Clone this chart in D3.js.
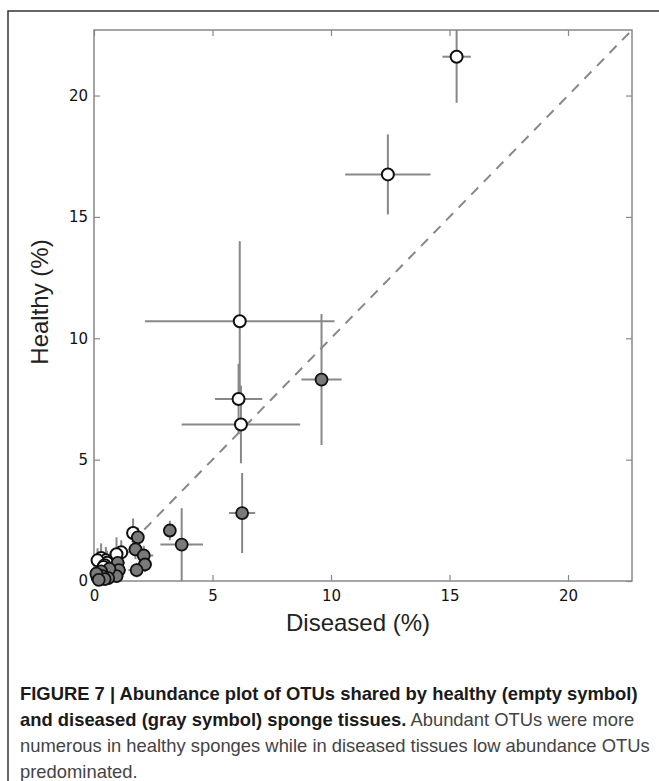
<!DOCTYPE html>
<html>
<head>
<meta charset="utf-8">
<script src="https://cdn.jsdelivr.net/npm/d3@7"></script>
<style>
  body { margin: 0; background: #fff; }
</style>
</head>
<body>
<svg id="chart"></svg>
<script>
// [diseased %, healthy %, x error, y error]
const openPoints = [
  [15.3, 21.6, 0.6, 1.9],
  [12.4, 16.75, 1.8, 1.65],
  [6.15, 10.7, 4.0, 3.3],
  [6.1, 7.5, 1.0, 1.45],
  [6.2, 6.45, 2.5, 1.6],
  [1.65, 1.98, 0.3, 0.6],
  [1.15, 1.18, 0.35, 0.5],
  [0.95, 1.1, 0.3, 0.7],
  [0.3, 0.95, 0.2, 0.6],
  [0.5, 0.85, 0.25, 0.55],
  [0.55, 0.75, 0.2, 0.5],
  [0.15, 0.85, 0.1, 0.5],
  [0.45, 0.65, 0.2, 0.4],
  [0.4, 0.58, 0.2, 0.4],
  [0.25, 0.35, 0.15, 0.3],
  [0.15, 0.15, 0.1, 0.2]
];

const grayPoints = [
  [9.6, 8.3, 0.85, 2.7],
  [6.25, 2.8, 0.55, 1.65],
  [3.7, 1.5, 0.9, 1.5],
  [3.2, 2.08, 0.15, 0.4],
  [1.85, 1.8, 0.2, 0.4],
  [1.75, 1.3, 0.3, 0.4],
  [2.1, 1.05, 0.4, 0.4],
  [2.15, 0.68, 0.3, 0.3],
  [1.8, 0.45, 0.35, 0.3],
  [1.0, 0.75, 0.3, 0.3],
  [1.05, 0.45, 0.3, 0.3],
  [0.95, 0.2, 0.3, 0.3],
  [0.65, 0.5, 0.2, 0.3],
  [0.6, 0.12, 0.2, 0.2],
  [0.3, 0.4, 0.15, 0.2],
  [0.35, 0.2, 0.2, 0.2],
  [0.45, 0.08, 0.15, 0.15],
  [0.1, 0.3, 0.1, 0.2],
  [0.2, 0.05, 0.1, 0.1]
];

const tickValues = [0, 5, 10, 15, 20];
const axisMax = 22.7;

const xLabel = 'Diseased (%)';
const yLabel = 'Healthy (%)';

const captionLines = [
  [{t: 'FIGURE 7 | Abundance plot of OTUs shared by healthy (empty symbol)', b: true}],
  [{t: 'and diseased (gray symbol) sponge tissues.', b: true}, {t: ' Abundant OTUs were more', b: false}],
  [{t: 'numerous in healthy sponges while in diseased tissues low abundance OTUs', b: false}],
  [{t: 'predominated.', b: false}]
];

const W = 659, H = 781;
const margin = {top: 30, left: 94};
const width = 538;
const height = 551;

const root = d3.select('#chart')
.attr('width', W)
.attr('height', H);

// outer figure frame (only left/top edges show)
root.append('rect')
.attr('x', 8).attr('y', 11)
.attr('width', W + 20).attr('height', H + 20)
.attr('fill', 'none')
.attr('stroke', '#333')
.attr('stroke-width', 1.5);

const svg = root.append('g')
.attr('transform', `translate(${margin.left}, ${margin.top})`);

const x = d3.scaleLinear().domain([0, axisMax]).range([0, width]);
const y = d3.scaleLinear().domain([0, axisMax]).range([height, 0]);

svg.append('clipPath').attr('id', 'clip')
.append('rect').attr('width', width).attr('height', height);

// axes with inward ticks on all four sides
const axisStyle = g => {
  g.select('.domain').remove();
  g.selectAll('.tick line').attr('stroke', '#888').attr('stroke-width', 1.2);
  g.selectAll('.tick text')
  .style('font-family', 'DejaVu Sans')
  .style('font-size', '15px')
  .style('fill', '#111');
};

svg.append('g')
.attr('transform', `translate(0, ${height})`)
.call(d3.axisBottom(x).tickValues(tickValues).tickSize(-6).tickPadding(9))
.call(axisStyle);

svg.append('g')
.call(d3.axisLeft(y).tickValues(tickValues).tickSize(-6).tickPadding(6))
.call(axisStyle);

svg.append('g')
.call(d3.axisTop(x).tickValues(tickValues).tickSize(-6).tickFormat(''))
.call(axisStyle);

svg.append('g')
.attr('transform', `translate(${width}, 0)`)
.call(d3.axisRight(y).tickValues(tickValues).tickSize(-6).tickFormat(''))
.call(axisStyle);

svg.append('rect')
.attr('width', width).attr('height', height)
.attr('fill', 'none')
.attr('stroke', '#888')
.attr('stroke-width', 1.5);

// 1:1 line
svg.append('line')
.attr('x1', x(0)).attr('y1', y(0))
.attr('x2', x(axisMax)).attr('y2', y(axisMax))
.attr('stroke', '#888')
.attr('stroke-width', 2)
.attr('stroke-dasharray', '10,8');

const plot = svg.append('g').attr('clip-path', 'url(#clip)');

const allPoints = openPoints.concat(grayPoints);

plot.selectAll('line.xerr')
.data(allPoints)
.enter()
.append('line')
.attr('class', 'xerr')
.attr('x1', d => x(d[0] - d[2])).attr('x2', d => x(d[0] + d[2]))
.attr('y1', d => y(d[1])).attr('y2', d => y(d[1]))
.attr('stroke', '#888').attr('stroke-width', 2);

plot.selectAll('line.yerr')
.data(allPoints)
.enter()
.append('line')
.attr('class', 'yerr')
.attr('x1', d => x(d[0])).attr('x2', d => x(d[0]))
.attr('y1', d => y(d[1] - d[3])).attr('y2', d => y(d[1] + d[3]))
.attr('stroke', '#888').attr('stroke-width', 2);

svg.selectAll('circle.open')
.data(openPoints)
.enter()
.append('circle')
.attr('class', 'open')
.attr('cx', d => x(d[0]))
.attr('cy', d => y(d[1]))
.attr('r', 6)
.attr('fill', '#fff')
.attr('stroke', '#111')
.attr('stroke-width', 2);

svg.selectAll('circle.gray')
.data(grayPoints)
.enter()
.append('circle')
.attr('class', 'gray')
.attr('cx', d => x(d[0]))
.attr('cy', d => y(d[1]))
.attr('r', 6)
.attr('fill', '#7a7a7a')
.attr('stroke', '#111')
.attr('stroke-width', 1.8);

// axis titles
svg.append('text')
.attr('x', width / 2 - 5)
.attr('y', height + 50)
.attr('text-anchor', 'middle')
.style('font-family', 'Liberation Sans, Arial, sans-serif')
.style('font-size', '24px')
.style('fill', '#222')
.text(xLabel);

svg.append('text')
.attr('transform', 'rotate(-90)')
.attr('x', -272)
.attr('y', -46)
.attr('text-anchor', 'middle')
.style('font-family', 'Liberation Sans, Arial, sans-serif')
.style('font-size', '24px')
.style('fill', '#222')
.text(yLabel);

// caption
const caption = root.append('text')
.style('font-family', 'Liberation Sans, Arial, sans-serif')
.style('font-size', '18.4px');

captionLines.forEach((line, i) => {
  line.forEach((part, j) => {
    caption.append('tspan')
    .attr('x', j === 0 ? 20 : null)
    .attr('y', j === 0 ? 700 + i * 26 : null)
    .style('font-weight', part.b ? 'bold' : 'normal')
    .style('fill', part.b ? '#1a1a1a' : '#444')
    .text(part.t);
  });
});
</script>
</body>
</html>
